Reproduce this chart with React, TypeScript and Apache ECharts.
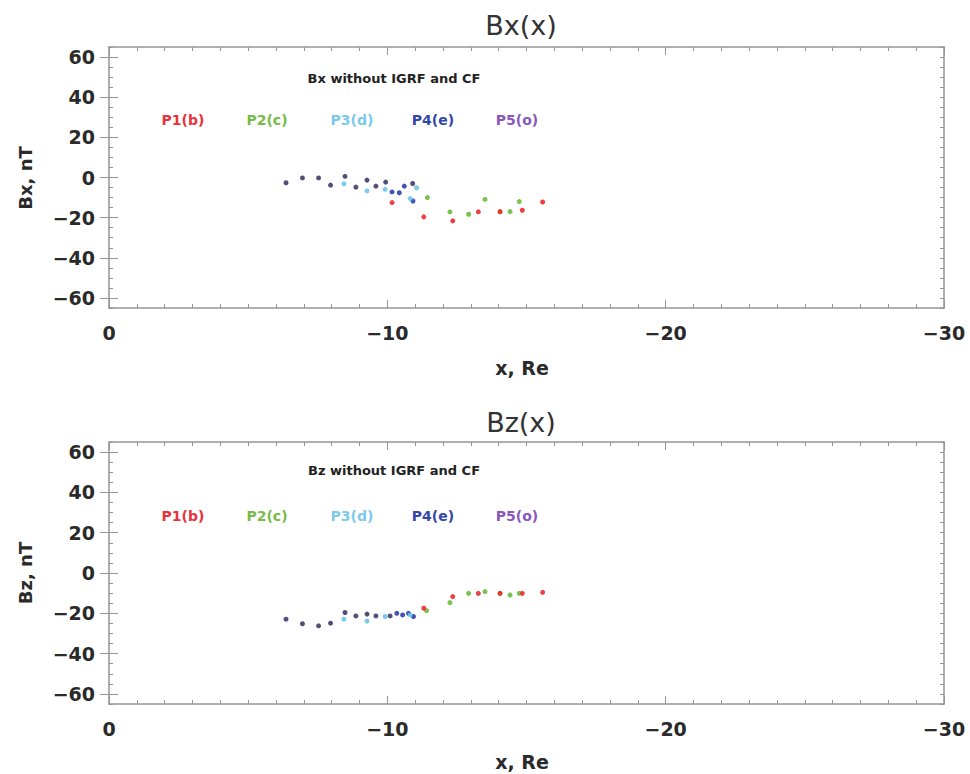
import React, { useEffect, useRef } from "react";
import * as echarts from "echarts";

// ---- Data (x in Re, B in nT) ----
const xTicks = [0, -10, -20, -30];
const yTickLabels = [-60, -40, -20, 0, 20, 40, 60];

// Panel 1: Bx(x)
const bxP1X = [-10.17, -11.31, -12.35, -13.27, -14.05, -14.85, -15.58];
const bxP1Y = [-12.5, -19.6, -21.6, -17.1, -17.0, -16.3, -12.2];
const bxP2X = [-11.44, -12.25, -12.92, -13.51, -14.05, -14.41, -14.74];
const bxP2Y = [-10.0, -17.1, -18.3, -10.9, -17.1, -17.0, -12.0];
const bxP3X = [-8.44, -9.27, -9.92, -10.82, -11.05];
const bxP3Y = [-3.1, -6.7, -5.9, -10.5, -5.1];
const bxP4X = [-10.17, -10.43, -10.61, -10.92];
const bxP4Y = [-7.2, -7.6, -4.3, -11.7];
const bxP5X = [-6.36, -6.95, -7.53, -7.96, -8.48, -8.87, -9.27, -9.59, -9.94, -10.91];
const bxP5Y = [-2.6, -0.2, -0.2, -3.8, 0.6, -4.8, -1.3, -4.3, -2.3, -3.0];

// Panel 2: Bz(x)
const bzP1X = [-11.31, -12.35, -13.27, -14.05, -14.85, -15.58];
const bzP1Y = [-17.5, -11.7, -10.1, -10.1, -10.1, -9.6];
const bzP2X = [-11.41, -12.25, -12.92, -13.51, -14.05, -14.41, -14.74];
const bzP2Y = [-18.7, -14.7, -10.1, -9.2, -10.1, -10.9, -10.1];
const bzP3X = [-8.44, -9.27, -9.92, -10.82];
const bzP3Y = [-22.9, -23.8, -21.6, -20.8];
const bzP4X = [-10.34, -10.55, -10.76, -10.94];
const bzP4Y = [-20.0, -20.8, -20.0, -21.6];
const bzP5X = [-6.36, -6.95, -7.53, -7.96, -8.48, -8.87, -9.27, -9.59, -10.1];
const bzP5Y = [-22.9, -25.2, -26.2, -24.9, -19.6, -21.3, -20.4, -21.3, -21.3];

const seriesNames = ["P1(b)", "P2(c)", "P3(d)", "P4(e)", "P5(o)"];
const dotColors = ["#ec2b2b", "#6cbb3c", "#6cc6e6", "#2d3fae", "#3e3c66"];
const labelColors = ["#e8323c", "#78bb48", "#7cc9ea", "#3446a8", "#8a58bc"];

const zip = (xs: number[], ys: number[]) => xs.map((x, i) => [x, ys[i]]);

const panels = [
  {
    title: "Bx(x)",
    yName: "Bx, nT",
    note: "Bx without IGRF and CF",
    sets: [zip(bxP1X, bxP1Y), zip(bxP2X, bxP2Y), zip(bxP3X, bxP3Y), zip(bxP4X, bxP4Y), zip(bxP5X, bxP5Y)],
  },
  {
    title: "Bz(x)",
    yName: "Bz, nT",
    note: "Bz without IGRF and CF",
    sets: [zip(bzP1X, bzP1Y), zip(bzP2X, bzP2Y), zip(bzP3X, bzP3Y), zip(bzP4X, bzP4Y), zip(bzP5X, bzP5Y)],
  },
];

const FONT = "DejaVu Sans";
const AXIS = "#959595";
const minus = (v: number) => (v < 0 ? "\u2212" + Math.abs(v) : String(v));

export default function App() {
  const ref = useRef<HTMLDivElement>(null);
  useEffect(() => {
    if (!ref.current) return;
    const chart = echarts.init(ref.current, null, { renderer: "svg" });

    const grids = [
      { left: 109, width: 835, top: 47, height: 261 },
      { left: 109, width: 835, top: 442, height: 262 },
    ];
    const titleY = [25, 422];
    const xNameY = [368, 762];
    const noteY = [78, 470];
    const legY = [120, 516];
    const legX = [183, 267, 352, 433, 517];

    const xAxis: any[] = [];
    const yAxis: any[] = [];
    const series: any[] = [];
    const graphic: any[] = [];

    panels.forEach((p, gi) => {
      ["bottom", "top"].forEach((pos) => {
        xAxis.push({
          type: "value",
          gridIndex: gi,
          position: pos,
          min: -30,
          max: 0,
          interval: 10,
          inverse: true,
          axisLine: { show: true, onZero: false, lineStyle: { color: AXIS, width: 1.5 } },
          axisTick: { show: true, inside: true, length: 8, lineStyle: { color: AXIS } },
          minorTick: { show: true, splitNumber: 10, length: 4, lineStyle: { color: AXIS } },
          splitLine: { show: false },
          axisLabel: {
            show: pos === "bottom",
            margin: 15,
            formatter: (v: number) => minus(v),
            fontFamily: FONT,
            fontWeight: "bold",
            fontSize: 19,
            color: "#2a2a2a",
          },
        });
      });
      ["left", "right"].forEach((pos) => {
        yAxis.push({
          type: "value",
          gridIndex: gi,
          position: pos,
          min: -65,
          max: 65,
          interval: 5,
          axisLine: { show: true, onZero: false, lineStyle: { color: AXIS, width: 1.5 } },
          axisTick: { show: true, inside: true, length: 4, lineStyle: { color: AXIS } },
          splitLine: { show: false },
          axisLabel: {
            show: pos === "left",
            margin: 14,
            formatter: (v: number) => (yTickLabels.indexOf(v) >= 0 ? minus(v) : ""),
            fontFamily: FONT,
            fontWeight: "bold",
            fontSize: 19,
            color: "#2a2a2a",
          },
        });
        yAxis.push({
          type: "value",
          gridIndex: gi,
          position: pos,
          min: -65,
          max: 65,
          interval: 5,
          axisLine: { show: false },
          axisTick: {
            show: true,
            inside: true,
            length: 9,
            customValues: yTickLabels,
            lineStyle: { color: AXIS },
          },
          splitLine: { show: false },
          axisLabel: { show: false },
        });
      });

      p.sets.forEach((d, si) => {
        series.push({
          type: "scatter",
          name: seriesNames[si] + " " + p.title,
          xAxisIndex: gi * 2,
          yAxisIndex: gi * 4,
          data: d,
          symbol: "circle",
          symbolSize: 5,
          itemStyle: { color: dotColors[si], opacity: 0.9 },
          z: 5 - si,
        });
      });

      graphic.push({
        type: "text",
        x: 521,
        y: titleY[gi],
        style: { text: p.title, font: `27px "${FONT}"`, fill: "#333", align: "center", verticalAlign: "middle" },
      });
      graphic.push({
        type: "text",
        x: 522,
        y: xNameY[gi],
        style: { text: "x, Re", font: `bold 19px "${FONT}"`, fill: "#2a2a2a", align: "center", verticalAlign: "middle" },
      });
      graphic.push({
        type: "text",
        x: 25,
        y: gi === 0 ? 178 : 573,
        rotation: Math.PI / 2,
        style: { text: p.yName, font: `bold 18px "${FONT}"`, fill: "#2a2a2a", align: "center", verticalAlign: "middle" },
      });
      graphic.push({
        type: "text",
        x: 394,
        y: noteY[gi],
        style: { text: p.note, font: `bold 13px "${FONT}"`, fill: "#222", align: "center", verticalAlign: "middle" },
      });
      seriesNames.forEach((n, si) => {
        graphic.push({
          type: "text",
          x: legX[si],
          y: legY[gi],
          style: { text: n, font: `bold 14px "${FONT}"`, fill: labelColors[si], align: "center", verticalAlign: "middle" },
        });
      });
    });

    chart.setOption({
      animation: false,
      backgroundColor: "#fff",
      grid: grids,
      xAxis,
      yAxis,
      series,
      graphic,
    });
    return () => chart.dispose();
  }, []);

  return (
    <div
      ref={ref}
      style={{ position: "fixed", left: 0, top: 0, width: 970, height: 774 }}
    />
  );
}
